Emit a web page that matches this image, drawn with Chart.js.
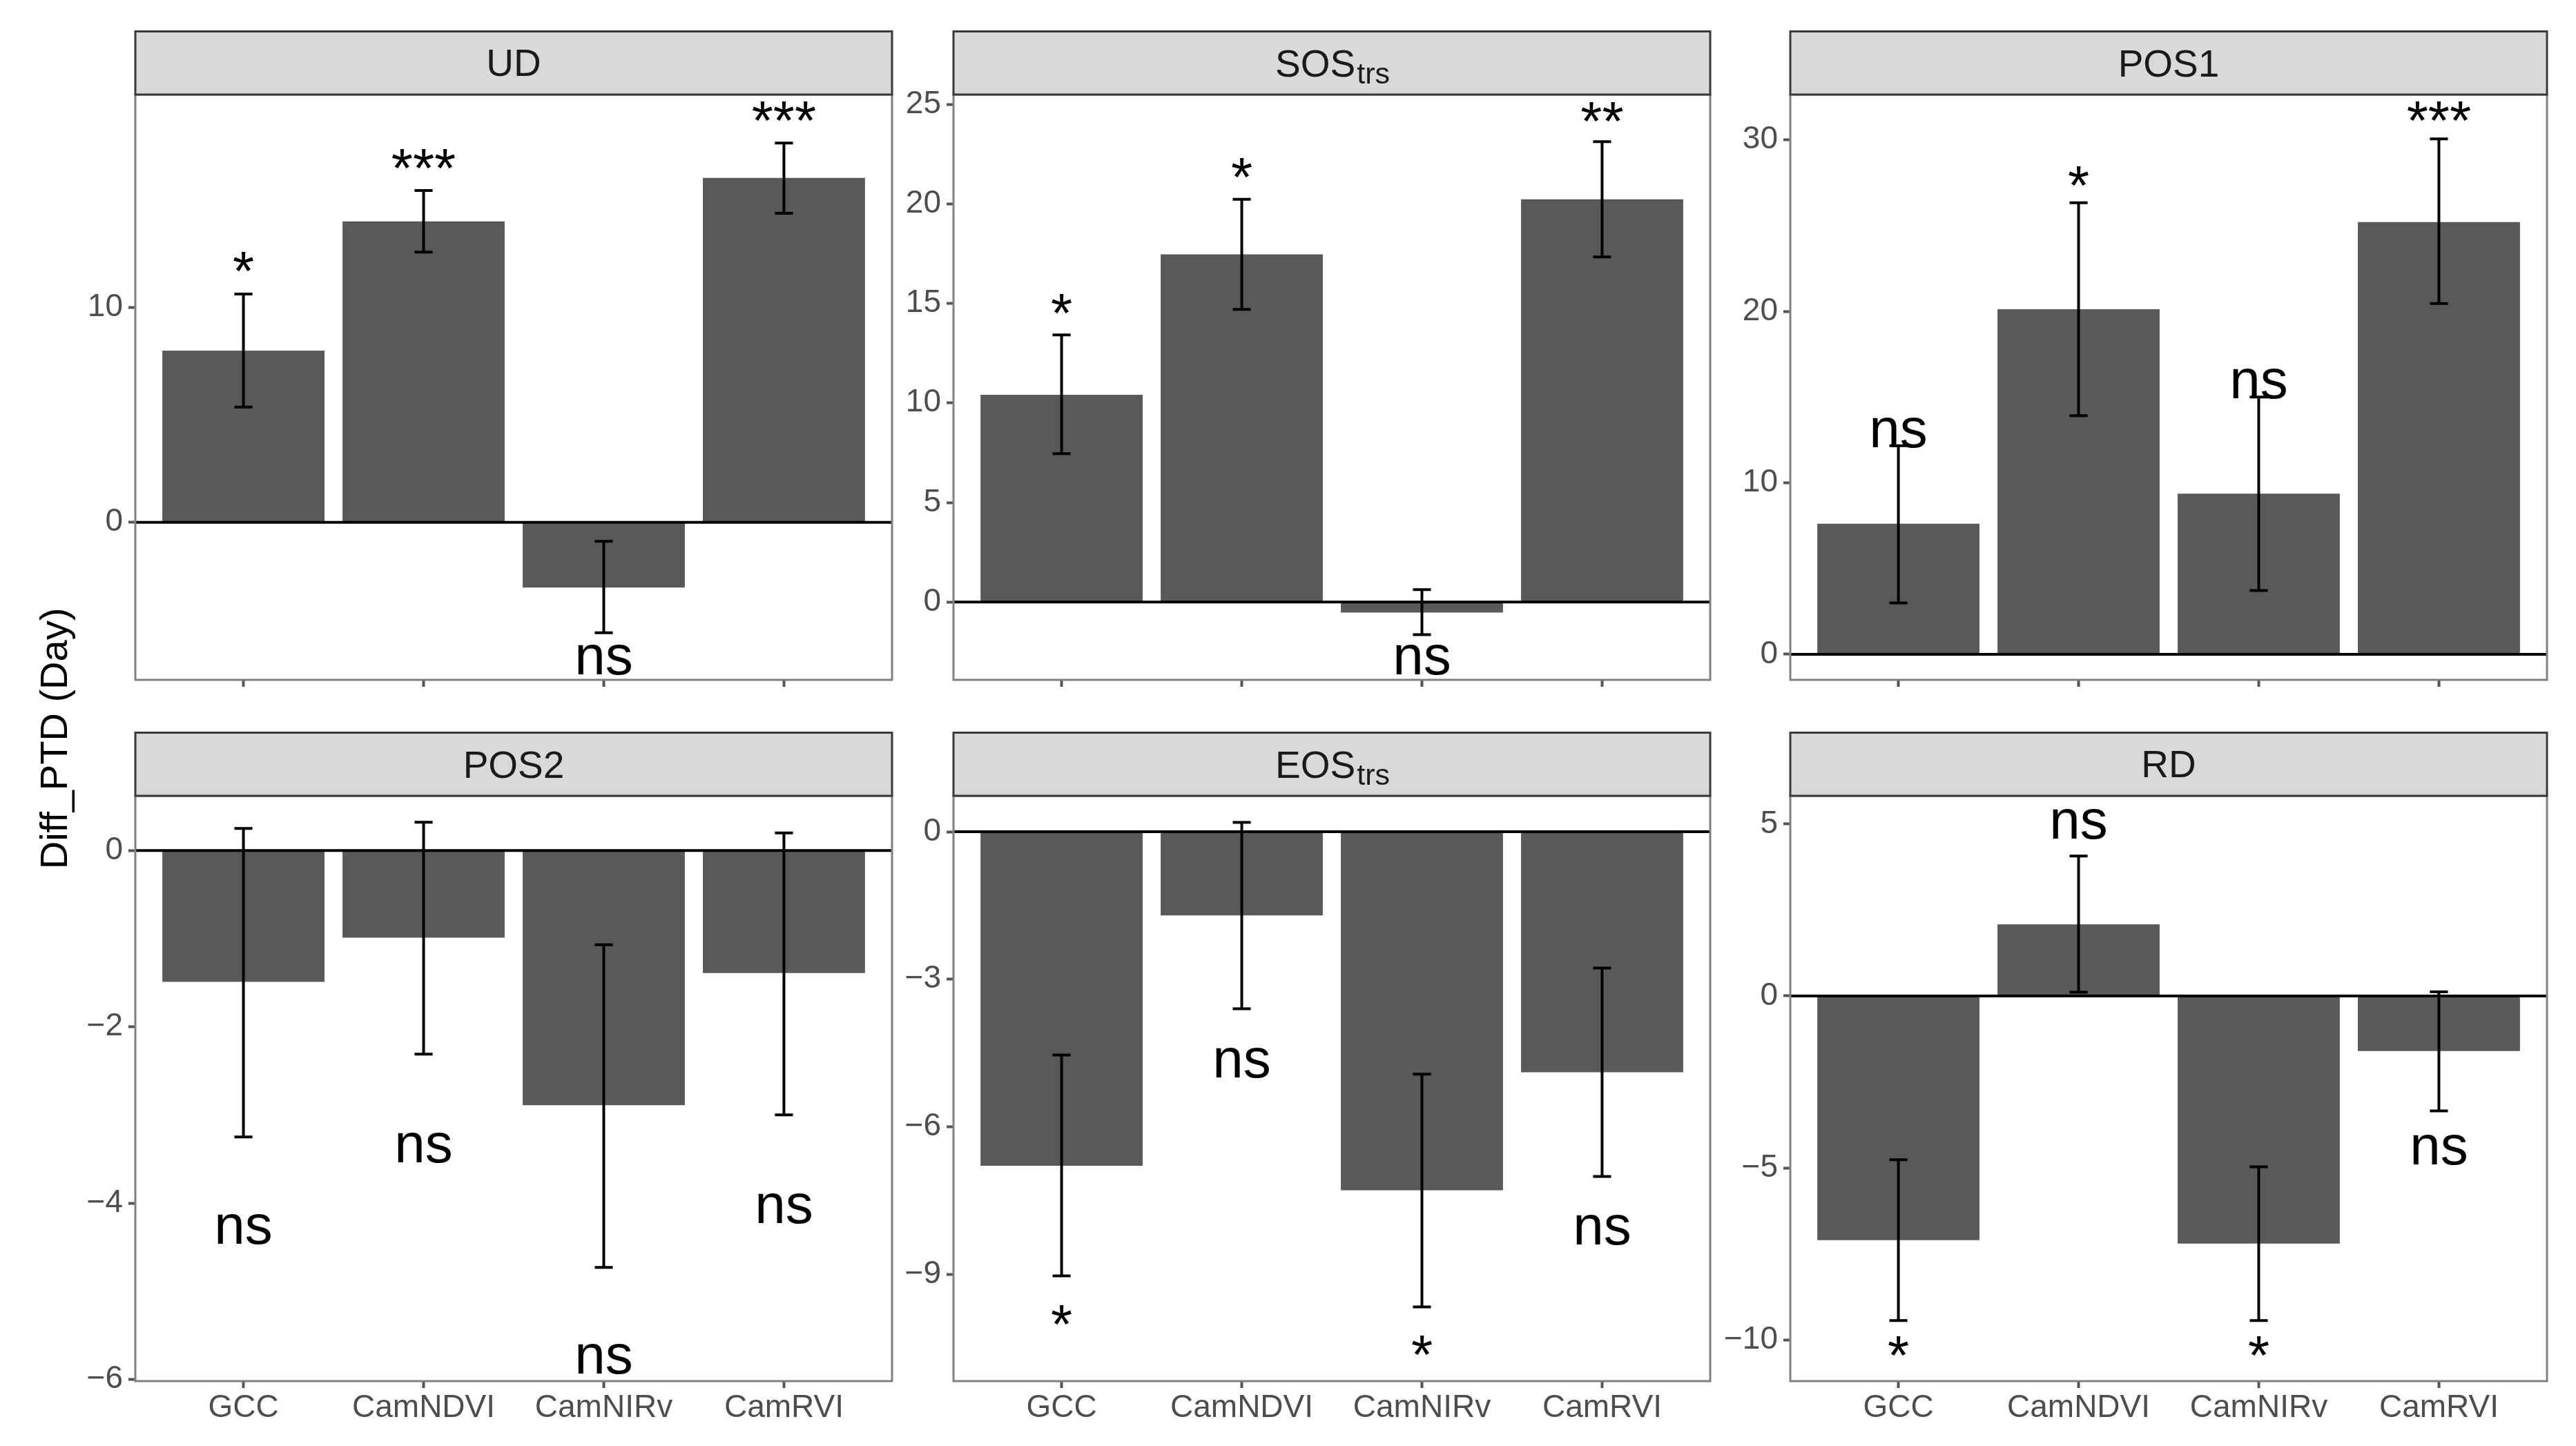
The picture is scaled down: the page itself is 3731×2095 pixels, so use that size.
<!DOCTYPE html>
<html>
<head>
<meta charset="utf-8">
<script src="https://cdn.jsdelivr.net/npm/chart.js@4.4.0/dist/chart.umd.min.js"></script>
<style>
html, body { margin: 0; padding: 0; background: #fff; }
body { width: 3731px; height: 2095px; position: relative; overflow: hidden; }
canvas { position: absolute; }
#ytitle {
	position: absolute; left: 78px; top: 1070px;
	transform: translate(-50%, -50%) rotate(-90deg);
	font: 56px "Liberation Sans", Arial, sans-serif;
	line-height: 1; white-space: nowrap; color: #000;
}
</style>
</head>
<body>
<div id="ytitle">Diff_PTD (Day)</div>
<script>
const categories = ['GCC', 'CamNDVI', 'CamNIRv', 'CamRVI'];
const xPositions = [1, 2, 3, 4];

// UD
const udMean = [7.98, 13.99, -3.03, 16.01];
const udLow = [5.36, 12.56, -5.13, 14.36];
const udHigh = [10.61, 15.42, -0.88, 17.63];
const udSig = ['*', '***', 'ns', '***'];
const udSigY = [12.09, 16.89, -6.4, 19.1];
const udRange = [-7.32, 19.88];
const udTicks = [0, 10];

// SOS trs
const sosMean = [10.41, 17.46, -0.53, 20.23];
const sosLow = [7.45, 14.7, -1.64, 17.33];
const sosHigh = [13.42, 20.23, 0.62, 23.12];
const sosSig = ['*', '*', 'ns', '**'];
const sosSigY = [14.96, 21.8, -2.92, 24.6];
const sosRange = [-3.91, 25.49];
const sosTicks = [0, 5, 10, 15, 20, 25];

// POS1
const pos1Mean = [7.62, 20.12, 9.37, 25.2];
const pos1Low = [3.0, 13.91, 3.72, 20.45];
const pos1High = [12.16, 26.33, 15.0, 30.05];
const pos1Sig = ['ns', '*', 'ns', '***'];
const pos1SigY = [12.93, 27.87, 15.76, 31.64];
const pos1Range = [-1.49, 32.64];
const pos1Ticks = [0, 10, 20, 30];

// POS2
const pos2Mean = [-1.49, -0.99, -2.89, -1.39];
const pos2Low = [-3.25, -2.31, -4.73, -3.0];
const pos2High = [0.25, 0.32, -1.07, 0.2];
const pos2Sig = ['ns', 'ns', 'ns', 'ns'];
const pos2SigY = [-4.3, -3.37, -5.77, -4.06];
const pos2Range = [-6.02, 0.62];
const pos2Ticks = [-6, -4, -2, 0];

// EOS trs
const eosMean = [-6.79, -1.7, -7.29, -4.89];
const eosLow = [-9.03, -3.6, -9.66, -7.01];
const eosHigh = [-4.54, 0.19, -4.93, -2.77];
const eosSig = ['*', 'ns', '*', 'ns'];
const eosSigY = [-9.83, -4.7, -10.45, -8.1];
const eosRange = [-11.17, 0.73];
const eosTicks = [-9, -6, -3, 0];

// RD
const rdMean = [-7.1, 2.08, -7.2, -1.6];
const rdLow = [-9.44, 0.11, -9.44, -3.34];
const rdHigh = [-4.76, 4.07, -4.97, 0.12];
const rdSig = ['*', 'ns', '*', 'ns'];
const rdSigY = [-10.18, 4.99, -10.18, -4.48];
const rdRange = [-11.2, 5.82];
const rdTicks = [-10, -5, 0, 5];

const FONT = '"Liberation Sans", Arial, sans-serif';
const colLeft = [196, 1381, 2593];
const rowTop = [44, 1060];
const STRIP_H = 93;
const PLOT_W = 1096;
const PLOT_H = 848;
const AXIS_W = 160;
const AXIS_H = 90;
const ERR_HALF = 0.05;

const panels = [
	{ title: 'UD', sub: '', mean: udMean, low: udLow, high: udHigh, sig: udSig, sigY: udSigY, range: udRange, ticks: udTicks },
	{ title: 'SOS', sub: 'trs', mean: sosMean, low: sosLow, high: sosHigh, sig: sosSig, sigY: sosSigY, range: sosRange, ticks: sosTicks },
	{ title: 'POS1', sub: '', mean: pos1Mean, low: pos1Low, high: pos1High, sig: pos1Sig, sigY: pos1SigY, range: pos1Range, ticks: pos1Ticks },
	{ title: 'POS2', sub: '', mean: pos2Mean, low: pos2Low, high: pos2High, sig: pos2Sig, sigY: pos2SigY, range: pos2Range, ticks: pos2Ticks },
	{ title: 'EOS', sub: 'trs', mean: eosMean, low: eosLow, high: eosHigh, sig: eosSig, sigY: eosSigY, range: eosRange, ticks: eosTicks },
	{ title: 'RD', sub: '', mean: rdMean, low: rdLow, high: rdHigh, sig: rdSig, sigY: rdSigY, range: rdRange, ticks: rdTicks }
];

function facetPlugin(p) {
	return {
		id: 'facet',
		afterDatasetsDraw(chart) {
			const { ctx, chartArea: a, scales: { x, y } } = chart;
			ctx.save();
			ctx.beginPath();
			ctx.rect(a.left, a.top, a.right - a.left, a.bottom - a.top);
			ctx.clip();

			// zero line
			const y0 = y.getPixelForValue(0);
			ctx.strokeStyle = '#000';
			ctx.lineWidth = 4;
			ctx.beginPath();
			ctx.moveTo(a.left, y0);
			ctx.lineTo(a.right, y0);
			ctx.stroke();

			// error bars
			p.low.forEach((lo, i) => {
				const cx = x.getPixelForValue(xPositions[i]);
				const hw = x.getPixelForValue(xPositions[i] + ERR_HALF) - cx;
				const yl = y.getPixelForValue(lo);
				const yh = y.getPixelForValue(p.high[i]);
				ctx.beginPath();
				ctx.moveTo(cx, yl); ctx.lineTo(cx, yh);
				ctx.moveTo(cx - hw, yl); ctx.lineTo(cx + hw, yl);
				ctx.moveTo(cx - hw, yh); ctx.lineTo(cx + hw, yh);
				ctx.stroke();
			});

			// significance labels
			ctx.fillStyle = '#000';
			ctx.font = `80px ${FONT}`;
			ctx.textAlign = 'center';
			ctx.textBaseline = 'alphabetic';
			p.sig.forEach((s, i) => {
				const m = ctx.measureText(s);
				const cy = y.getPixelForValue(p.sigY[i]);
				const off = (m.actualBoundingBoxAscent - m.actualBoundingBoxDescent) / 2;
				ctx.fillText(s, x.getPixelForValue(xPositions[i]), cy + off);
			});
			ctx.restore();
		},
		afterDraw(chart) {
			const { ctx, chartArea: a } = chart;
			const w = a.right - a.left;
			ctx.save();
			// panel border
			ctx.strokeStyle = '#808080';
			ctx.lineWidth = 3;
			ctx.strokeRect(a.left, a.top, w, a.bottom - a.top);

			// strip
			ctx.fillStyle = '#d9d9d9';
			ctx.fillRect(a.left, 1.5, w, a.top - 1.5);
			ctx.strokeStyle = '#3a3a3a';
			ctx.strokeRect(a.left, 1.5, w, a.top - 1.5);

			ctx.fillStyle = '#1a1a1a';
			ctx.textAlign = 'left';
			ctx.textBaseline = 'alphabetic';
			ctx.font = `55px ${FONT}`;
			const m1 = ctx.measureText(p.title);
			ctx.font = `43px ${FONT}`;
			const w2 = p.sub ? ctx.measureText(p.sub).width : 0;
			const start = a.left + w / 2 - (m1.width + w2) / 2;
			const base = (a.top + 1.5) / 2 + m1.actualBoundingBoxAscent / 2;
			ctx.font = `55px ${FONT}`;
			ctx.fillText(p.title, start, base);
			if (p.sub) {
				ctx.font = `43px ${FONT}`;
				ctx.fillText(p.sub, start + m1.width + 2, base + 10);
			}
			ctx.restore();
		}
	};
}

panels.forEach((p, k) => {
	const col = k % 3;
	const row = Math.floor(k / 3);
	const bottomRow = row === 1;

	const canvas = document.createElement('canvas');
	const cw = AXIS_W + PLOT_W + 4;
	const ch = STRIP_H + PLOT_H + AXIS_H;
	canvas.width = cw;
	canvas.height = ch;
	canvas.style.left = (colLeft[col] - AXIS_W) + 'px';
	canvas.style.top = rowTop[row] + 'px';
	canvas.style.width = cw + 'px';
	canvas.style.height = ch + 'px';
	document.body.appendChild(canvas);

	const tickGrid = {
		display: true,
		offset: false,
		drawOnChartArea: false,
		drawTicks: true,
		tickLength: 10,
		tickWidth: 4,
		tickColor: '#555'
	};

	new Chart(canvas.getContext('2d'), {
		type: 'bar',
		data: {
			datasets: [{
				data: xPositions.map((v, i) => ({ x: v, y: p.mean[i] })),
				backgroundColor: '#595959',
				borderWidth: 0,
				barPercentage: 0.9,
				categoryPercentage: 1
			}]
		},
		options: {
			responsive: false,
			animation: false,
			devicePixelRatio: 1,
			layout: { padding: { top: STRIP_H, left: 0, right: 4, bottom: 0 } },
			plugins: {
				legend: { display: false },
				tooltip: { enabled: false }
			},
			scales: {
				x: {
					type: 'linear',
					offset: false,
					min: 0.4,
					max: 4.6,
					afterBuildTicks: s => { s.ticks = xPositions.map(v => ({ value: v })); },
					afterFit: s => { s.height = AXIS_H; s.paddingLeft = 0; s.paddingRight = 0; },
					grid: tickGrid,
					border: { display: false },
					ticks: {
						display: bottomRow,
						autoSkip: false,
						maxRotation: 0,
						padding: 2,
						color: '#4d4d4d',
						font: { family: FONT, size: 46 },
						callback: v => categories[xPositions.indexOf(v)]
					}
				},
				y: {
					min: p.range[0],
					max: p.range[1],
					afterBuildTicks: s => { s.ticks = p.ticks.map(v => ({ value: v })); },
					afterFit: s => { s.width = AXIS_W; s.paddingTop = 0; s.paddingBottom = 0; },
					grid: tickGrid,
					border: { display: false },
					ticks: {
						autoSkip: false,
						padding: 8,
						color: '#4d4d4d',
						font: { family: FONT, size: 46 },
						callback: v => String(v).replace('-', '\u2212')
					}
				}
			}
		},
		plugins: [facetPlugin(p)]
	});
});
</script>
</body>
</html>
